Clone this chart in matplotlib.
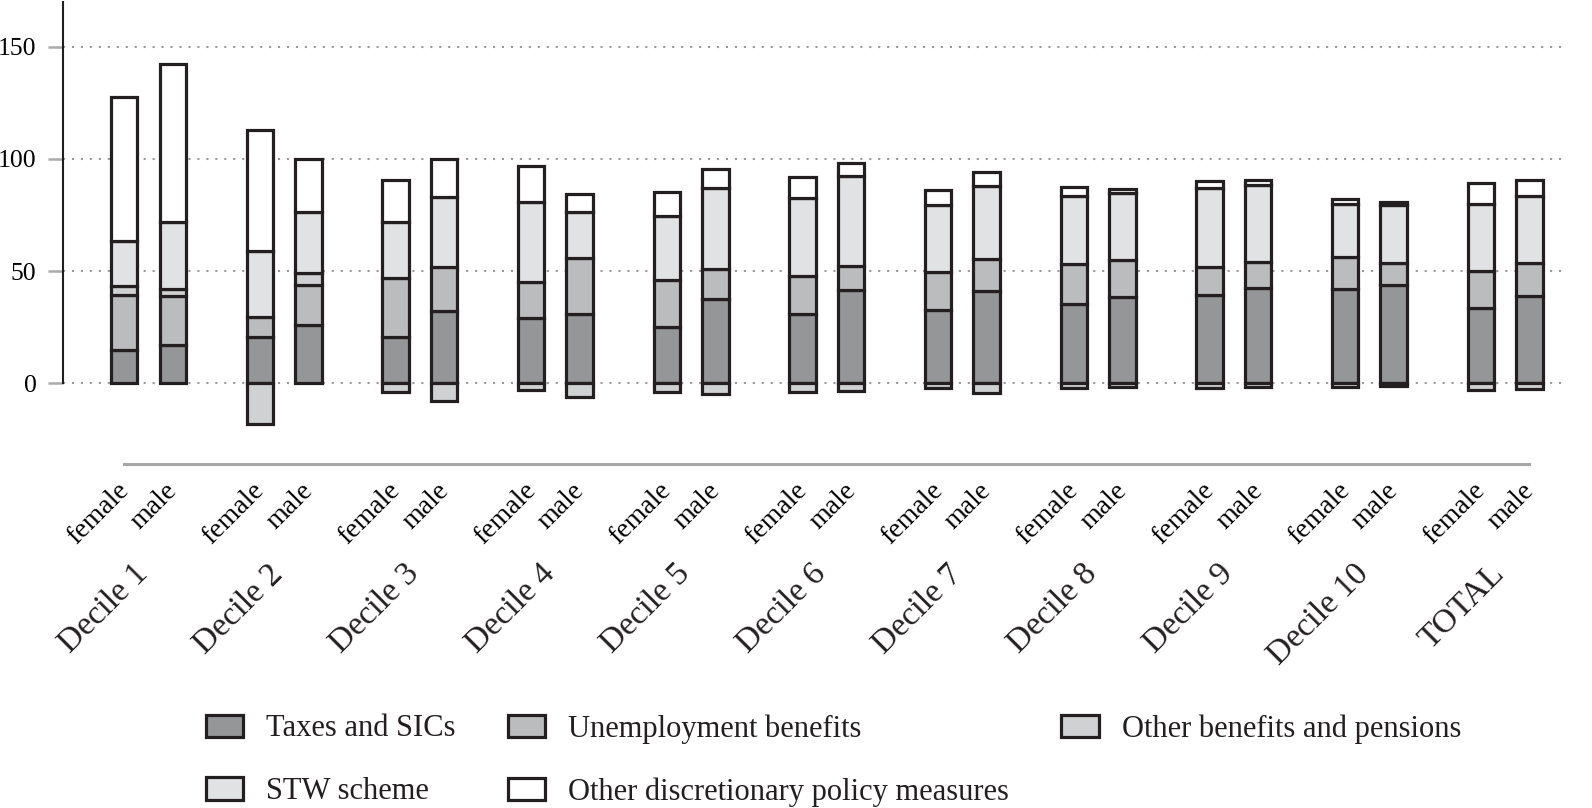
import matplotlib.pyplot as plt
import numpy as np

plt.rcParams['font.family'] = ['Liberation Serif', 'DejaVu Serif']
plt.rcParams['text.color'] = '#231f20'

groups = ["Decile 1", "Decile 2", "Decile 3", "Decile 4", "Decile 5", "Decile 6",
          "Decile 7", "Decile 8", "Decile 9", "Decile 10", "TOTAL"]
sexes = ["female", "male"]

labels = ["Taxes and SICs", "Unemployment benefits", "Other benefits and pensions",
          "STW scheme", "Other discretionary policy measures"]

taxes_f = [15, 20.5, 20.5, 29, 25, 31, 32.5, 35.5, 39.5, 42, 33.5]
taxes_m = [17, 26, 32, 31, 37.5, 41.5, 41, 38.5, 42.5, 44, 39]
unemp_f = [24.5, 9, 26.5, 16, 21, 17, 17, 17.5, 12.5, 14.5, 16.5]
unemp_m = [22, 18, 20, 25, 13.5, 11, 14.5, 16.5, 11.5, 9.5, 14.5]
other_f = [4, -18, -4, -3, -4, -4, -2, -2, -2, -1.5, -3]
other_m = [3, 5, -8, -6, -5, -3.5, -4.5, -1.5, -1.5, -1, -2.5]
stw_f = [20, 29.5, 25, 36, 28.5, 34.5, 30, 30.5, 35, 23.5, 30]
stw_m = [30, 27.5, 31, 20.5, 36, 40, 32.5, 30, 34.5, 26, 30]
disc_f = [64, 54, 18.5, 16, 11, 9.5, 6.5, 4, 3, 2, 9.5]
disc_m = [70.5, 23.5, 17, 8, 8.5, 5.5, 6, 1.5, 2, 1.5, 7]

colors = ['#959697', '#bbbcbd', '#d0d1d2', '#e1e2e3', '#ffffff']
edge = '#231f20'

fig = plt.figure(figsize=(15.92, 8.08), dpi=100)
ax = fig.add_axes([63/1592, 1-464/808, (1568-63)/1592, 462/808])

x = np.arange(len(groups))
off = 0.179
w = 0.195

handles = {}
for xs, comps in [(x - off, [taxes_f, unemp_f, other_f, stw_f, disc_f]),
                  (x + off, [taxes_m, unemp_m, other_m, stw_m, disc_m])]:
    pos = np.zeros(len(x))
    neg = np.zeros(len(x))
    for vals, col, lab in zip(comps, colors, labels):
        v = np.array(vals, float)
        bottom = np.where(v >= 0, pos, neg)
        b = ax.bar(xs, v, w, bottom=bottom, color=col, edgecolor=edge, linewidth=2.3, zorder=3)
        handles[lab] = b
        pos += np.clip(v, 0, None)
        neg += np.clip(v, None, 0)

ax.set_xlim(-0.63, 10.464)
ax.set_ylim(-36, 170)
ax.set_yticks([0, 50, 100, 150])
ax.yaxis.grid(True, linestyle=(0, (1, 3.3)), linewidth=1.5, color='#9a9a9a')
ax.set_axisbelow(True)

# label anchors sit a little left of the bars, as in the original
ticks = np.ravel(np.column_stack([x - off, x + off])) - 0.06
ax.set_xticks(ticks)
ax.set_xticklabels(sexes * len(groups), rotation=45, ha='right', rotation_mode='anchor',
                   fontsize=20)
ax.tick_params(axis='x', length=0, pad=10)
ax.tick_params(axis='y', length=11, width=1.8, color='#aaaaaa', pad=8, labelsize=18.5)

for s in ['top', 'right']:
    ax.spines[s].set_visible(False)
ax.spines['left'].set_color(edge)
ax.spines['left'].set_linewidth(1.5)
ax.spines['left'].set_bounds(0, 170)
ax.spines['bottom'].set_color('#a6a6a6')
ax.spines['bottom'].set_linewidth(2.2)
ax.spines['bottom'].set_bounds(x[0] - off, x[-1] + off)

for xi, g in zip(x, groups):
    ax.text(xi - 0.12, -0.205, g, transform=ax.get_xaxis_transform(), rotation=45,
            ha='right', va='top', rotation_mode='anchor', fontsize=24)

order = [labels[0], labels[3], labels[1], labels[4], labels[2]]
fig.legend([handles[l] for l in order], order, ncol=3, loc='upper left',
           bbox_to_anchor=(206/1592, 1-714/808), frameon=False, fontsize=22,
           handlelength=1.22, handleheight=0.76, handletextpad=0.76,
           columnspacing=1.7, labelspacing=1.1, borderpad=0, borderaxespad=0)

plt.savefig('out.png', dpi=100)
